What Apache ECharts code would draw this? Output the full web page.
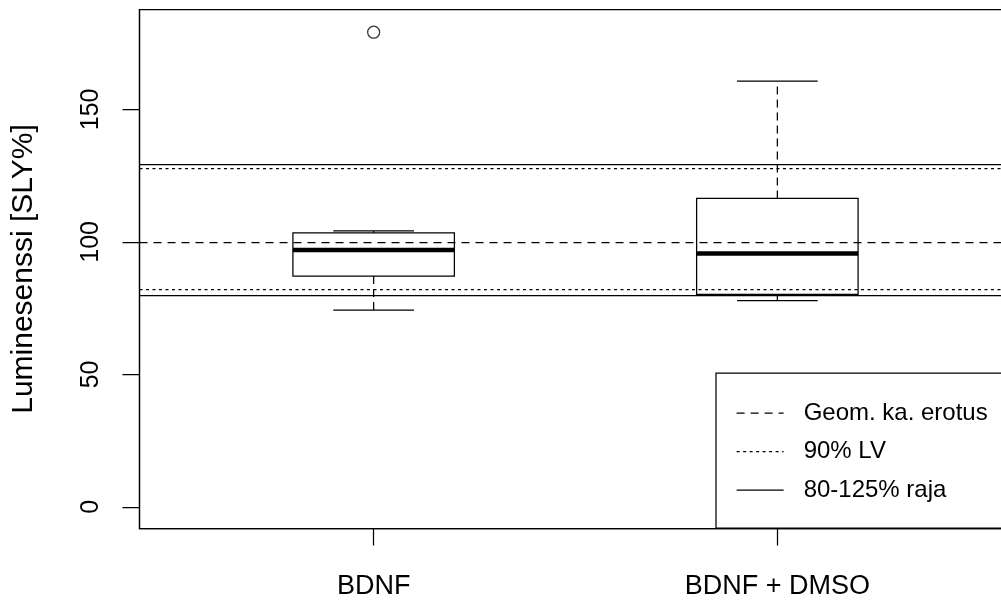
<!DOCTYPE html>
<html>
<head>
<meta charset="utf-8">
<script src="https://cdn.jsdelivr.net/npm/echarts@6/dist/echarts.min.js"></script>
<style>
html,body{margin:0;padding:0;background:#fff;}
#chart{width:1001px;height:603px;}
</style>
</head>
<body>
<div id="chart"></div>
<script>
// ---- data ----
const categories = ['BDNF', 'BDNF + DMSO'];
const whiskerLow  = [74.2, 77.8];
const q1          = [87.1, 80.2];
const median      = [96.9, 95.6];
const q3          = [103.4, 116.4];
const whiskerHigh = [104.1, 160.6];
const outlierGroup = [1];
const outlierValue = [179.1];
const geomDiff = [99.85];          // Geom. ka. erotus
const ci90 = [82.1, 127.7];        // 90% LV
const limits = [80, 129.3];        // 80-125% raja
const yTicks = [0, 50, 100, 150];
const xTicks = [1, 2];

const FONT = '"Liberation Sans", Arial, sans-serif';
const LW = 1.25;
const dashedPat = [8, 6];
const dottedPat = [3, 3.5];
const hiddenSymbol = {color: 'rgba(0,0,0,0)', borderColor: 'rgba(0,0,0,0)', borderWidth: 0};

const boxData = categories.map((c, i) => [i + 1, whiskerLow[i], q1[i], median[i], q3[i], whiskerHigh[i]]);
const outData = outlierGroup.map((g, i) => [g, outlierValue[i]]);

function refSeries(name, values, pattern) {
  return {
    name: name,
    type: 'line',
    data: [],
    symbol: 'none',
    showSymbol: false,
    itemStyle: {color: '#000'},
    lineStyle: {color: '#000', width: LW, type: pattern},
    markLine: {
      silent: true,
      symbol: ['none', 'none'],
      label: {show: false},
      lineStyle: {color: '#000', width: LW, type: pattern},
      emphasis: {disabled: true},
      data: values.map(v => ({yAxis: v}))
    },
    z: 3
  };
}

const chart = echarts.init(document.getElementById('chart'), null, {renderer: 'canvas'});
chart.setOption({
  animation: false,
  backgroundColor: '#fff',
  grid: {
    left: 139.5, top: 9.5, width: 872, height: 519,
    show: true, borderColor: '#000', borderWidth: LW, backgroundColor: 'transparent',
    containLabel: false, outerBoundsMode: 'none'
  },
  xAxis: {
    type: 'value', min: 0.42, max: 2.58,
    splitLine: {show: false},
    axisLine: {show: true, onZero: false, lineStyle: {color: '#000', width: LW}},
    axisTick: {show: true, customValues: xTicks, length: 17, lineStyle: {color: '#000', width: LW}},
    axisLabel: {
      customValues: xTicks, margin: 45, color: '#000', fontSize: 27, fontFamily: FONT,
      formatter: v => categories[Math.round(v) - 1] || ''
    }
  },
  yAxis: {
    type: 'value', min: -8.15, max: 187.67,
    name: 'Luminesenssi [SLY%]', nameLocation: 'middle', nameGap: 101,
    nameTextStyle: {color: '#000', fontSize: 30, fontFamily: FONT},
    splitLine: {show: false},
    axisLine: {show: true, onZero: false, lineStyle: {color: '#000', width: LW}},
    axisTick: {show: true, customValues: yTicks, length: 17, lineStyle: {color: '#000', width: LW}},
    axisLabel: {customValues: yTicks, rotate: 90, margin: 36, color: '#000', fontSize: 25, fontFamily: FONT}
  },
  legend: {
    left: 716, top: 373,
    orient: 'vertical',
    backgroundColor: '#fff',
    borderColor: '#000', borderWidth: LW, borderRadius: 0,
    padding: [28, 80, 26, 20],
    itemWidth: 47, itemHeight: 14, itemGap: 14.5,
    textStyle: {color: '#000', fontSize: 24, fontFamily: FONT, lineHeight: 24, padding: [0, 0, 0, 15]},
    data: [
      {name: 'Geom. ka. erotus', itemStyle: hiddenSymbol, lineStyle: {color: '#000', width: LW, type: dashedPat}},
      {name: '90% LV', itemStyle: hiddenSymbol, lineStyle: {color: '#000', width: LW, type: dottedPat}},
      {name: '80-125% raja', itemStyle: hiddenSymbol, lineStyle: {color: '#000', width: LW, type: 'solid'}}
    ],
    selectedMode: false,
    z: 10
  },
  series: [
    {
      name: 'box',
      type: 'custom',
      data: boxData,
      encode: {x: 0, y: [1, 2, 3, 4, 5]},
      z: 4,
      renderItem: function (params, api) {
        const x = api.value(0);
        const lo = api.value(1), a = api.value(2), md = api.value(3), b = api.value(4), hi = api.value(5);
        const bw = 0.2, cw = 0.1;
        const pc = (xx, yy) => api.coord([xx, yy]);
        const tl = pc(x - bw, b), br = pc(x + bw, a);
        const mL = pc(x - bw, md), mR = pc(x + bw, md);
        const wTop = pc(x, hi), wQ3 = pc(x, b), wQ1 = pc(x, a), wLo = pc(x, lo);
        const cTL = pc(x - cw, hi), cTR = pc(x + cw, hi);
        const cBL = pc(x - cw, lo), cBR = pc(x + cw, lo);
        const stroke = {stroke: '#000', lineWidth: LW, fill: null};
        return {
          type: 'group',
          children: [
            {type: 'line', shape: {x1: wQ3[0], y1: wQ3[1], x2: wTop[0], y2: wTop[1]}, style: Object.assign({}, stroke, {lineDash: [8, 5]})},
            {type: 'line', shape: {x1: wQ1[0], y1: wQ1[1], x2: wLo[0], y2: wLo[1]}, style: Object.assign({}, stroke, {lineDash: [8, 5]})},
            {type: 'line', shape: {x1: cTL[0], y1: cTL[1], x2: cTR[0], y2: cTR[1]}, style: stroke},
            {type: 'line', shape: {x1: cBL[0], y1: cBL[1], x2: cBR[0], y2: cBR[1]}, style: stroke},
            {type: 'rect', shape: {x: tl[0], y: tl[1], width: br[0] - tl[0], height: br[1] - tl[1]}, style: stroke},
            {type: 'line', shape: {x1: mL[0], y1: mL[1], x2: mR[0], y2: mR[1]}, style: {stroke: '#000', lineWidth: 4.5}}
          ]
        };
      }
    },
    {
      name: 'outlier',
      type: 'scatter',
      data: outData,
      symbol: 'circle',
      symbolSize: 12,
      itemStyle: {color: '#fff', borderColor: '#000', borderWidth: LW},
      z: 5
    },
    refSeries('Geom. ka. erotus', geomDiff, dashedPat),
    refSeries('90% LV', ci90, dottedPat),
    refSeries('80-125% raja', limits, 'solid')
  ]
});
</script>
</body>
</html>
